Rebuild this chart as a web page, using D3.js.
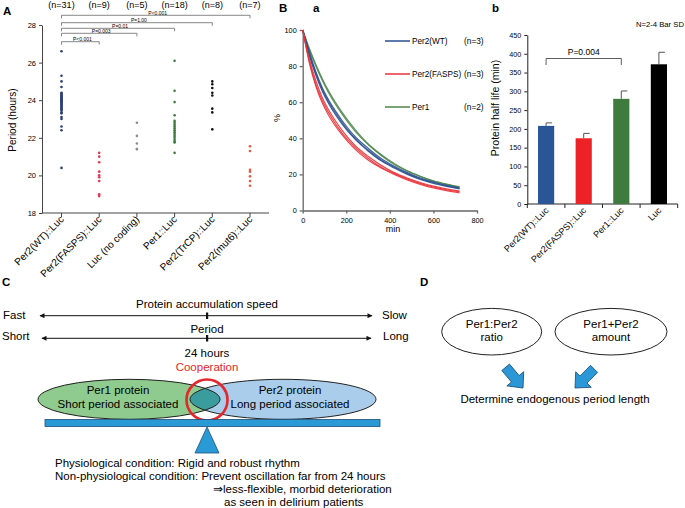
<!DOCTYPE html>
<html><head><meta charset="utf-8">
<script src="https://cdn.jsdelivr.net/npm/d3@7"></script>
<style>body{margin:0;background:#fff} text{font-family:"Liberation Sans",Arial,sans-serif}</style>
</head><body><svg id="c" width="685" height="508"></svg>
<script>
// ---------- Panel A data ----------
const catsA = ["Per2(WT)::Luc","Per2(FASPS)::Luc","Luc (no coding)","Per1::Luc","Per2(TrCP)::Luc","Per2(mut6)::Luc"];
const nLabelsA = ["(n=31)","(n=9)","(n=5)","(n=18)","(n=8)","(n=7)"];
const periodWT = [26.6,25.3,25.0,24.7,24.4,24.35,24.3,24.25,24.2,24.15,24.1,24.05,24.0,23.95,23.9,23.85,23.8,23.75,23.7,23.65,23.6,23.55,23.5,23.45,23.35,23.3,23.1,23.0,22.6,22.4,20.4];
const periodFASPS = [21.2,21.0,20.7,20.2,20.0,19.9,19.7,19.0,18.9];
const periodLuc = [22.8,22.1,21.7,21.4,21.4];
const periodPer1 = [26.1,24.5,23.9,23.2,22.9,22.8,22.7,22.6,22.5,22.4,22.3,22.2,22.1,22.0,21.9,21.8,21.75,21.2];
const periodTrCP = [25.0,24.85,24.65,24.4,24.25,23.55,23.35,22.45];
const periodMut6 = [21.55,21.3,20.3,20.2,19.95,19.7,19.45];
const periodsA = [periodWT,periodFASPS,periodLuc,periodPer1,periodTrCP,periodMut6];
const colorsA = ["#2b3f7a","#e6364e","#8c8c8c","#3b7a3b","#111111","#e8563c"];
const ticksA = [18,20,22,24,26,28];
const pLabelsA = ["P<0.001","P=0.003","P=0.01","P=1.00","P<0.001"];

// ---------- Panel B-a data ----------
const timesB = [0,30,60,90,120,180,240,300,360,420,480,540,600,660,720];
const wt1 = [100,87,76,67,60,49,40,33.5,28,24,20.5,17.5,15.5,13.8,12.3];
const wt2 = [100,86,75,66,59,48,39.5,33,27.5,23.5,20,17.2,15,13.4,12.0];
const wt3 = [100,88,77,68,61,50,41,34.5,28.8,24.5,21,18,15.8,14,12.6];
const fa1 = [100,83,70,61,54,43,35,29,24,20.5,17.5,15,13,11.5,10.4];
const fa2 = [100,84,72,62.5,55.5,44.5,36,30,25,21,18,15.5,13.5,12,10.8];
const fa3 = [100,82,69,59.5,52.5,42,34,28,23.5,20,17,14.5,12.5,11,9.8];
const p1a = [100,90,81,73,66,54.5,45,37,31,26,22,19,16.5,14.7,13.2];
const p1b = [100,89,80,72,65,53.5,44,36.5,30.5,25.5,21.8,18.8,16.3,14.5,13.0];
const seriesB = [
  {name:"Per2(WT)", n:"(n=3)", color:"#2a4f8f", reps:[wt1,wt2,wt3]},
  {name:"Per2(FASPS)", n:"(n=3)", color:"#e8333a", reps:[fa1,fa2,fa3]},
  {name:"Per1", n:"(n=2)", color:"#4c874c", reps:[p1a,p1b]}
];
const yTicksB = [0,20,40,60,80,100];
const xTicksB = [0,200,400,600,800];

// ---------- Panel B-b data ----------
const catsb = ["Per2(WT)::Luc","Per2(FASPS)::Luc","Per1::Luc","Luc"];
const halfLife = [208,175,280,372];
const halfLifeSD = [8,13,21,32];
const barColors = ["#2a5597","#ec2227","#3f7a3f","#000000"];
const yTicksb = [0,50,100,150,200,250,300,350,400,450];

const svg = d3.select("#c");
const F = "Liberation Sans, Arial, sans-serif";
function txt(g,x,y,s,size,opts={}){
  const t=g.append("text").attr("x",x).attr("y",y).text(s).attr("font-size",size);
  if(opts.anchor) t.attr("text-anchor",opts.anchor);
  if(opts.weight) t.attr("font-weight",opts.weight);
  if(opts.fill) t.attr("fill",opts.fill);
  if(opts.rot!==undefined) t.attr("transform",`rotate(${opts.rot},${x},${y})`);
  return t;
}
// panel letters
txt(svg,3,15,"A",11.5,{weight:"bold"});
txt(svg,279,12,"B",11.5,{weight:"bold"});
txt(svg,313,12,"a",11.5,{weight:"bold"});
txt(svg,492,12,"b",11.5,{weight:"bold"});
txt(svg,2,286,"C",11.5,{weight:"bold"});
txt(svg,420,286,"D",11.5,{weight:"bold"});

// ================= Panel A =================
{
const g = svg.append("g");
const yA = d3.scaleLinear().domain([18,28]).range([213,25]);
const xA = d3.scalePoint().domain(catsA).range([61.5,250]);
const ya = g.append("g").attr("transform","translate(42,0)")
  .call(d3.axisLeft(yA).tickValues(ticksA).tickSize(3).tickSizeOuter(0).tickPadding(3));
ya.selectAll("text").attr("font-size",7.5).attr("font-family",F);
ya.selectAll("path,line").attr("stroke","#444");
g.append("line").attr("x1",42).attr("x2",269).attr("y1",213).attr("y2",213).attr("stroke","#444");
catsA.forEach((c,i)=>{
  const x=xA(c);
  g.append("line").attr("x1",x).attr("x2",x).attr("y1",213).attr("y2",217).attr("stroke","#444");
  txt(g,x+3,220,c,10,{anchor:"end",rot:-45});
  txt(g,x,8,nLabelsA[i],9,{anchor:"middle"});
  periodsA[i].forEach(v=>{
    g.append("circle").attr("cx",x).attr("cy",yA(v)).attr("r",1.3).attr("fill",colorsA[i]);
  });
});
txt(g,16,120,"Period (hours)",10,{anchor:"middle",rot:-90});
const brY=[41.7,33.3,28.3,22.7,15.3];
pLabelsA.forEach((p,k)=>{
  const x0=xA(catsA[0]), x1=xA(catsA[k+1]), y=brY[k];
  g.append("path").attr("d",`M${x0},${y+3}V${y}H${x1}V${y+3}`).attr("fill","none").attr("stroke","#555").attr("stroke-width",0.7);
  txt(g,(x0+x1)/2+2,y-0.8,p,5,{anchor:"middle"});
});
}

// ================= Panel B-a =================
{
const g = svg.append("g");
const xB = d3.scaleLinear().domain([0,800]).range([302.7,477]);
const yB = d3.scaleLinear().domain([0,100]).range([210.5,30]);
const ay = g.append("g").attr("transform","translate(302.7,0)")
  .call(d3.axisLeft(yB).tickValues(yTicksB).tickSize(3).tickSizeOuter(0).tickPadding(3));
const ax = g.append("g").attr("transform","translate(0,210.5)")
  .call(d3.axisBottom(xB).tickValues(xTicksB).tickSize(3).tickSizeOuter(0).tickPadding(4));
[ay,ax].forEach(a=>{a.selectAll("text").attr("font-size",7.3).attr("font-family",F);
  a.selectAll("path,line").attr("stroke","#666").attr("stroke-width",1.3);});
txt(g,280,118,"%",9,{anchor:"middle",rot:-90});
txt(g,393,232,"min",9,{anchor:"middle"});
const line=d3.line().x((d,i)=>xB(timesB[i])).y(d=>yB(d)).curve(d3.curveMonotoneX);
[seriesB[2],seriesB[0],seriesB[1]].forEach(s=>{
  s.reps.forEach(r=>g.append("path").attr("d",line(r)).attr("fill","none").attr("stroke",s.color).attr("stroke-width",1.2).attr("stroke-opacity",0.9));
});
seriesB.forEach((s,i)=>{
  const y=41+i*33;
  g.append("line").attr("x1",385).attr("x2",410).attr("y1",y).attr("y2",y).attr("stroke",s.color).attr("stroke-width",1.5);
  txt(g,412,y+3,s.name,8.2);
  txt(g,464,y+3,s.n,8.3);
});
}

// ================= Panel B-b =================
{
const g = svg.append("g");
const yb = d3.scaleLinear().domain([0,450]).range([204,35]);
const xb = d3.scaleBand().domain(catsb).range([527.3,677.7]).paddingInner(0.57).paddingOuter(0.285);
const ay = g.append("g").attr("transform","translate(527.3,0)")
  .call(d3.axisLeft(yb).tickValues(yTicksb).tickSize(3).tickSizeOuter(0).tickPadding(3));
ay.selectAll("text").attr("font-size",7.2).attr("font-family",F);
ay.selectAll("path,line").attr("stroke","#222");
g.append("line").attr("x1",527.3).attr("x2",677.7).attr("y1",204).attr("y2",204).attr("stroke","#222");
const step=xb.step();
for(let i=0;i<=catsb.length;i++){
  const x=527.3+i*step;
  g.append("line").attr("x1",x).attr("x2",x).attr("y1",204).attr("y2",208).attr("stroke","#222");
}
catsb.forEach((c,i)=>{
  const x=xb(c), cx=x+xb.bandwidth()/2;
  g.append("rect").attr("x",x).attr("width",xb.bandwidth()).attr("y",yb(halfLife[i])).attr("height",204-yb(halfLife[i])).attr("fill",barColors[i]);
  const top=yb(halfLife[i]+halfLifeSD[i]);
  g.append("line").attr("x1",cx).attr("x2",cx).attr("y1",yb(halfLife[i])).attr("y2",top).attr("stroke","#555");
  g.append("line").attr("x1",cx).attr("x2",cx+6).attr("y1",top).attr("y2",top).attr("stroke","#555");
  txt(g,cx+3,211,c,9,{anchor:"end",rot:-45});
});
const c0=xb(catsb[0])+xb.bandwidth()/2, c2=xb(catsb[2])+xb.bandwidth()/2;
g.append("path").attr("d",`M${c0},65V58.5H${c2}V65`).attr("fill","none").attr("stroke","#333").attr("stroke-width",0.8);
txt(g,(c0+c2)/2,55,"P=0.004",8.5,{anchor:"middle"});
txt(g,684,27,"N=2-4 Bar SD",7.7,{anchor:"end"});
txt(g,499,108,"Protein half life (min)",10.5,{anchor:"middle",rot:-90});
}

// ================= Panel C =================
{
const g = svg.append("g");
const defs = svg.append("defs");
defs.append("marker").attr("id","ah").attr("viewBox","0 0 10 10").attr("refX",9).attr("refY",5)
  .attr("markerWidth",7).attr("markerHeight",5).attr("markerUnits","userSpaceOnUse").attr("orient","auto-start-reverse")
  .append("path").attr("d","M0,0L10,5L0,10Z").attr("fill","#111");
const fs=11.5;
txt(g,207,308,"Protein accumulation speed",fs,{anchor:"middle"});
g.append("line").attr("x1",40).attr("x2",372).attr("y1",315.7).attr("y2",315.7).attr("stroke","#111").attr("stroke-width",1)
  .attr("marker-start","url(#ah)").attr("marker-end","url(#ah)");
g.append("rect").attr("x",206).attr("y",312.5).attr("width",2.2).attr("height",6.5).attr("fill","#111");
txt(g,3,318.5,"Fast",fs); txt(g,382,318.5,"Slow",fs);
txt(g,207,333,"Period",fs,{anchor:"middle"});
g.append("line").attr("x1",42).attr("x2",371).attr("y1",338.3).attr("y2",338.3).attr("stroke","#111").attr("stroke-width",1)
  .attr("marker-start","url(#ah)").attr("marker-end","url(#ah)");
g.append("rect").attr("x",206).attr("y",335).attr("width",2.2).attr("height",6.5).attr("fill","#111");
txt(g,2,339.5,"Short",fs); txt(g,383,339.5,"Long",fs);
txt(g,207,357,"24 hours",fs,{anchor:"middle"});
txt(g,207,370.5,"Cooperation",fs,{anchor:"middle",fill:"#e8262a"});
const L={cx:129,cy:399.3,rx:91,ry:20}, R={cx:283,cy:399.3,rx:93,ry:20};
defs.append("clipPath").attr("id","rc").append("ellipse").attr("cx",R.cx).attr("cy",R.cy).attr("rx",R.rx).attr("ry",R.ry);
g.append("ellipse").attr("cx",L.cx).attr("cy",L.cy).attr("rx",L.rx).attr("ry",L.ry).attr("fill","#8fca8e");
g.append("ellipse").attr("cx",R.cx).attr("cy",R.cy).attr("rx",R.rx).attr("ry",R.ry).attr("fill","#a9cdea");
g.append("ellipse").attr("cx",L.cx).attr("cy",L.cy).attr("rx",L.rx).attr("ry",L.ry).attr("fill","#3a9c9c").attr("clip-path","url(#rc)");
[L,R].forEach(e=>g.append("ellipse").attr("cx",e.cx).attr("cy",e.cy).attr("rx",e.rx).attr("ry",e.ry).attr("fill","none").attr("stroke","#222").attr("stroke-width",1));
txt(g,118,394,"Per1 protein",fs,{anchor:"middle"});
txt(g,118,408,"Short period associated",fs,{anchor:"middle"});
txt(g,290,394,"Per2 protein",fs,{anchor:"middle"});
txt(g,290,408,"Long period associated",fs,{anchor:"middle"});
g.append("circle").attr("cx",207).attr("cy",400).attr("r",20.5).attr("fill","none").attr("stroke","#e5262b").attr("stroke-width",2.6);
g.append("rect").attr("x",45).attr("y",419.5).attr("width",335).attr("height",7).attr("fill","#2a9ad6").attr("stroke","#1c4f78").attr("stroke-width",0.8);
g.append("path").attr("d","M207,427L219,453L195,453Z").attr("fill","#2a9ad6").attr("stroke","#1c4f78").attr("stroke-width",0.8);
txt(g,55,466.5,"Physiological condition: Rigid and robust rhythm",fs);
txt(g,55,480,"Non-physiological condition: Prevent oscillation far from 24 hours",fs);
txt(g,213,493,"\u21D2less-flexible, morbid deterioration",fs);
txt(g,224,505.5,"as seen in delirium patients",fs);
}

// ================= Panel D =================
{
const g = svg.append("g");
const fs=11.5;
g.append("ellipse").attr("cx",491.7).attr("cy",331.7).attr("rx",50).attr("ry",23.3).attr("fill","#fff").attr("stroke","#222");
g.append("ellipse").attr("cx",611).attr("cy",331.7).attr("rx",56).attr("ry",23.3).attr("fill","#fff").attr("stroke","#222");
txt(g,491.7,328,"Per1:Per2",fs,{anchor:"middle"});
txt(g,491.7,340.5,"ratio",fs,{anchor:"middle"});
txt(g,611,328,"Per1+Per2",fs,{anchor:"middle"});
txt(g,611,340.5,"amount",fs,{anchor:"middle"});
const arrow="M-5,-27L5,-27L5,-12L11,-12L0,0L-11,-12L-5,-12Z";
g.append("path").attr("d",arrow).attr("transform","translate(523,388) rotate(-40)").attr("fill","#2c97d6").attr("stroke","#1d4f7a").attr("stroke-width",0.8);
g.append("path").attr("d",arrow).attr("transform","translate(575,388) rotate(45)").attr("fill","#2c97d6").attr("stroke","#1d4f7a").attr("stroke-width",0.8);
txt(g,555,403,"Determine endogenous period length",fs,{anchor:"middle"});
}
</script></body></html>
